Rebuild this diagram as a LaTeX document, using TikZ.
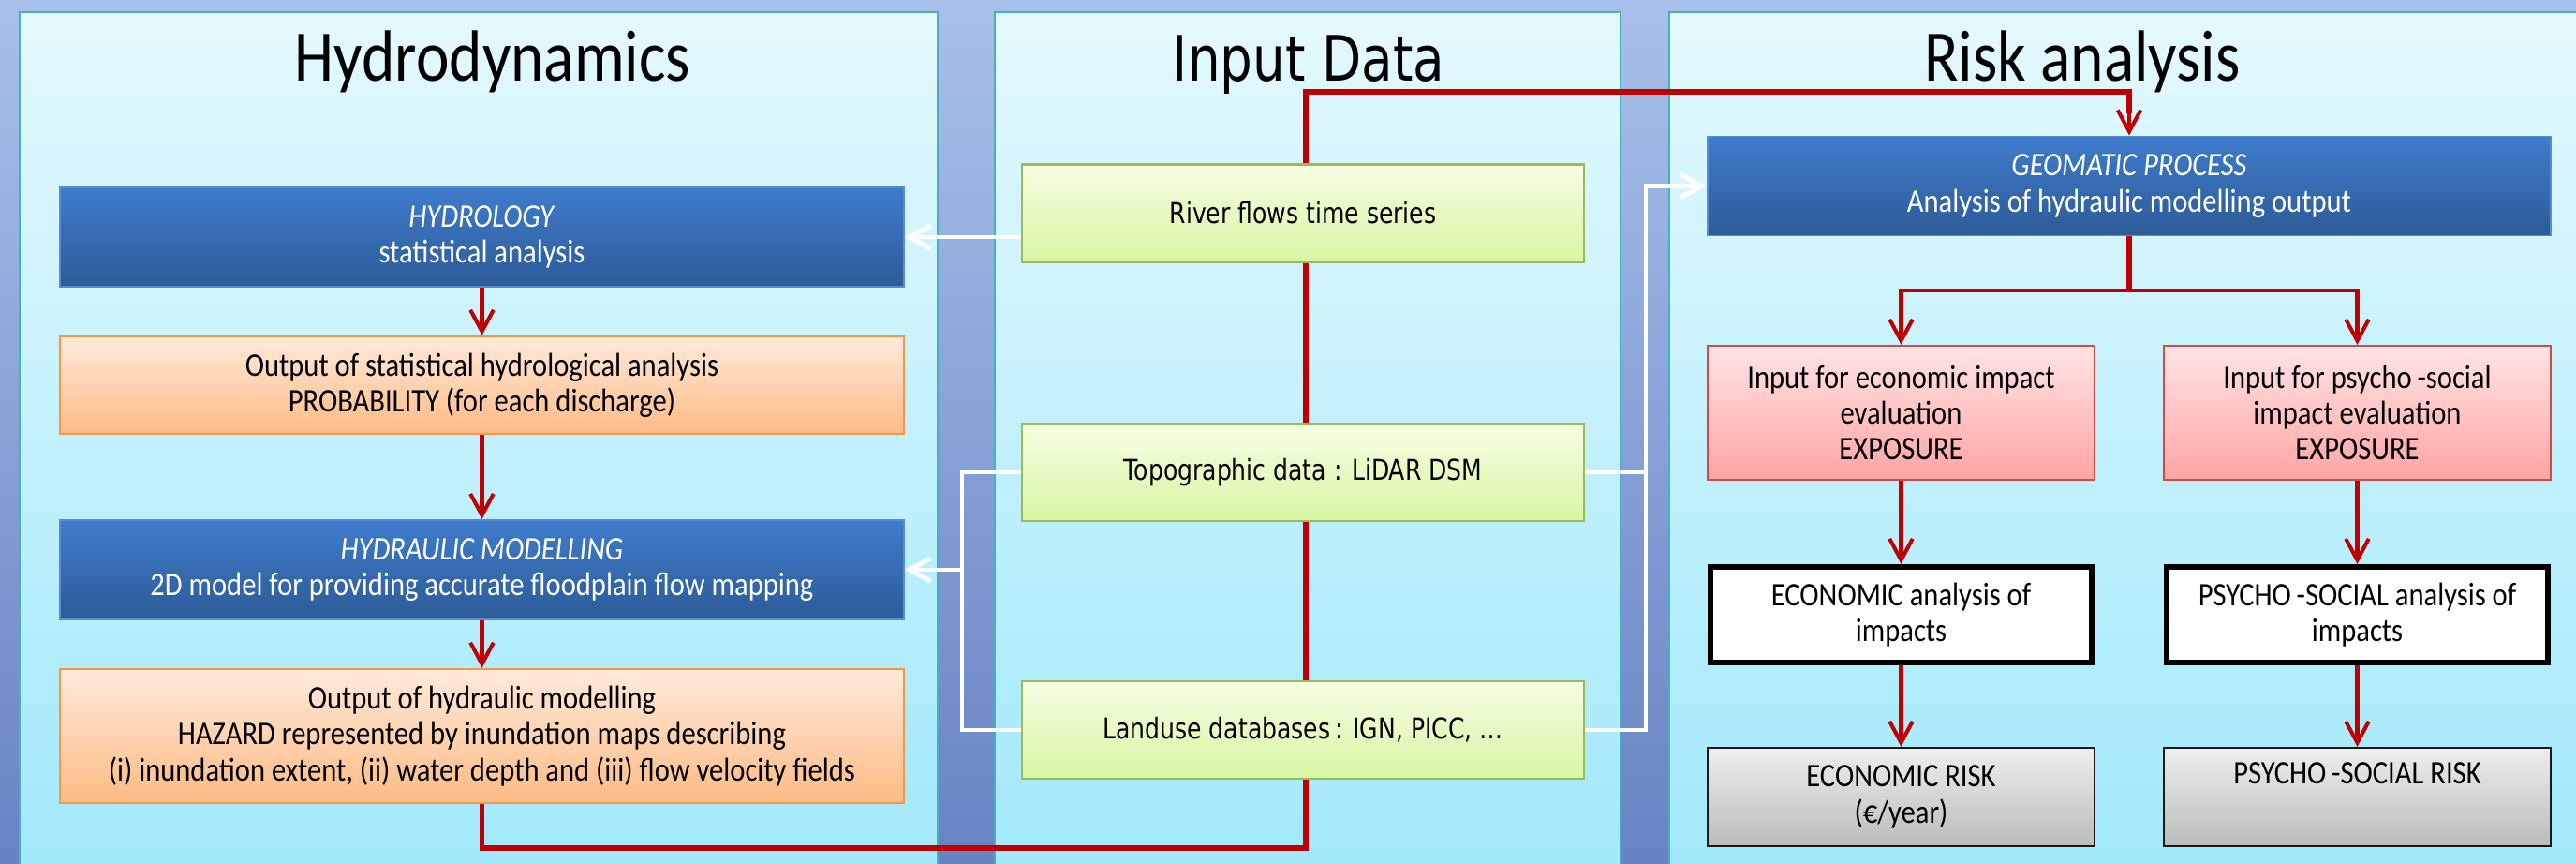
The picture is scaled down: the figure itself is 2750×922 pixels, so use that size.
\documentclass[tikz,border=0pt]{standalone}
\usepackage{fontspec}
\setmainfont{Carlito}[FakeStretch=0.87]
\newfontfamily\inputfont{DejaVu Sans}[FakeStretch=0.82]
\usepackage{tikz}
\usetikzlibrary{arrows.meta,backgrounds,calc,positioning}
\definecolor{bgtop}{HTML}{A8C1EA}
\definecolor{bgbot}{HTML}{6783C4}
\definecolor{paneltop}{HTML}{E4F9FE}
\definecolor{panelbot}{HTML}{A2E9FC}
\definecolor{paneledge}{HTML}{4BACC6}
\definecolor{bluetop}{HTML}{3E7CCC}
\definecolor{bluebot}{HTML}{2D5B97}
\definecolor{blueedge}{HTML}{5A8AD0}
\definecolor{orangetop}{HTML}{FFEADB}
\definecolor{orangebot}{HTML}{FDBB84}
\definecolor{orangeedge}{HTML}{F79646}
\definecolor{greentop}{HTML}{F5FEE3}
\definecolor{greenbot}{HTML}{D8F6A3}
\definecolor{greenedge}{HTML}{9BBB59}
\definecolor{pinktop}{HTML}{FFE4E4}
\definecolor{pinkbot}{HTML}{FFA4A4}
\definecolor{pinkedge}{HTML}{CC4B4B}
\definecolor{graytop}{HTML}{EEEEEE}
\definecolor{graybot}{HTML}{BBBBBB}
\definecolor{riskred}{HTML}{C00000}

\begin{document}
\begin{tikzpicture}[x=0.01cm,y=-0.01cm,
  box/.style={draw,align=center,inner sep=2pt,font=\fontsize{10}{10.9}\selectfont},
  bluebox/.style={box,draw=blueedge,line width=0.5pt,top color=bluetop,bottom color=bluebot,text=white,minimum width=9cm,minimum height=1.06cm},
  orangebox/.style={box,draw=orangeedge,line width=0.6pt,top color=orangetop,bottom color=orangebot,minimum width=9cm,minimum height=1.04cm},
  greenbox/.style={box,draw=greenedge,line width=0.7pt,top color=greentop,bottom color=greenbot,minimum width=6cm,minimum height=1.04cm,font=\inputfont\fontsize{8.7}{10}\selectfont},
  pinkbox/.style={box,draw=pinkedge,line width=0.6pt,top color=pinktop,bottom color=pinkbot,minimum width=4.13cm,minimum height=1.43cm},
  whitebox/.style={box,draw=black,line width=1.7pt,fill=white,minimum width=4.07cm,minimum height=1.02cm},
  graybox/.style={box,draw=black!90,line width=0.6pt,top color=graytop,bottom color=graybot,minimum width=4.13cm,minimum height=1.05cm},
  paneltitle/.style={anchor=base,inner sep=0pt,font=\fontsize{22}{26}\selectfont},
  redline/.style={riskred,line width=1.55pt},
  redarrow/.style={riskred,line width=1.15pt,-{Straight Barb[length=6.5pt,width=7pt]}},
  whiteline/.style={white,line width=1.4pt},
  whitearrow/.style={whiteline,-{Straight Barb[length=6.5pt,width=7pt]}}]
\useasboundingbox (0,0) rectangle (2750,922);
%Hintergrund und die drei Spalten
\begin{scope}[on background layer]
\fill[top color=bgtop,bottom color=bgbot] (0,0) rectangle (2750,922);
\foreach \l/\r in {21/1001,1062/1730,1782/2760}{
\fill[top color=paneltop,bottom color=panelbot] (\l,13) rectangle (\r,922);
\draw[paneledge,line width=0.6pt] (\l,922) -- (\l,13) -- (\r,13) -- (\r,922);
}
\end{scope}
\node[paneltitle] (hydrotitle) at (526,87) {Hydrodynamics};
\node[paneltitle,font=\inputfont\fontsize{19}{22}\selectfont] (inputtitle) at (1397,87) {Input Data};
\node[paneltitle] (risktitle) at (2223,87) {Risk analysis};
%Hydrodynamik
\node[bluebox] (hydrology) at (514.5,253) {\textit{HYDROLOGY}\\statistical analysis};
\node[orangebox] (outstat) at (514.5,411) {Output of statistical hydrological analysis\\PROBABILITY (for each discharge)};
\node[bluebox] (hydraulic) at (514.5,608) {\textit{HYDRAULIC MODELLING}\\2D model for providing accurate floodplain flow mapping};
\node[orangebox,minimum height=1.43cm] (outhyd) at (514.5,785.5) {Output of hydraulic modelling\\HAZARD represented by inundation maps describing\\(i) inundation extent, (ii) water depth and (iii) flow velocity fields};
%Eingangsdaten
\node[greenbox] (river) at (1391,227.5) {River flows time series};
\node[greenbox] (topo) at (1391,504) {Topographic data : LiDAR DSM};
\node[greenbox] (landuse) at (1391,779) {Landuse databases\,: IGN, PICC, …};
%Risikoanalyse
\node[bluebox] (geomatic) at (2273,198.5) {\textit{GEOMATIC PROCESS}\\Analysis of hydraulic modelling output};
\node[pinkbox] (ecoinput) at (2029.5,440.5) {Input for economic impact\\evaluation\\EXPOSURE};
\node[pinkbox] (psyinput) at (2516.5,440.5) {Input for psycho\,-social\\impact evaluation\\EXPOSURE};
\node[whitebox] (ecoanalysis) at (2029.5,656) {ECONOMIC analysis of\\impacts};
\node[whitebox] (psyanalysis) at (2516.5,656) {PSYCHO\,-SOCIAL analysis of\\impacts};
\node[graybox] (ecorisk) at (2029.5,850.5) {ECONOMIC RISK\\(€/year)};
\node[graybox] (psyrisk) at (2516.5,850.5) {PSYCHO\,-SOCIAL RISK\\\strut};
%Pfeile
\foreach \a/\b in {hydrology/outstat,outstat/hydraulic,hydraulic/outhyd,ecoinput/ecoanalysis,ecoanalysis/ecorisk,psyinput/psyanalysis,psyanalysis/psyrisk}{
\draw[redarrow] (\a.south) -- (\b.north);
}
\coordinate (split) at (2273,310);
\draw[redline] (geomatic.south) -- (split);
\draw[redarrow] (split) -| (ecoinput.north);
\draw[redarrow] (split) -| (psyinput.north);
\coordinate (lowturn) at (1394,905);
\coordinate (highturn) at (1394,98);
\begin{scope}[on background layer]
\draw[redline] (outhyd.south) |- (lowturn) -- (highturn) -| ($(geomatic.north)+(0,-24)$);
\end{scope}
\draw[redarrow] ($(geomatic.north)+(0,-26)$) -- (geomatic.north);
\coordinate (leftbus) at (1027,608);
\coordinate (rightbus) at (1757,198.5);
\draw[whitearrow] (river.west |- hydrology.east) -- (hydrology.east);
\draw[whiteline] (topo.west) -| (leftbus) |- (landuse.west);
\draw[whitearrow] (leftbus) -- (hydraulic.east);
\draw[whiteline] (topo.east) -- (topo.east -| rightbus);
\draw[whitearrow] (landuse.east) -| (rightbus) -- (geomatic.west);
\end{tikzpicture}
\end{document}
